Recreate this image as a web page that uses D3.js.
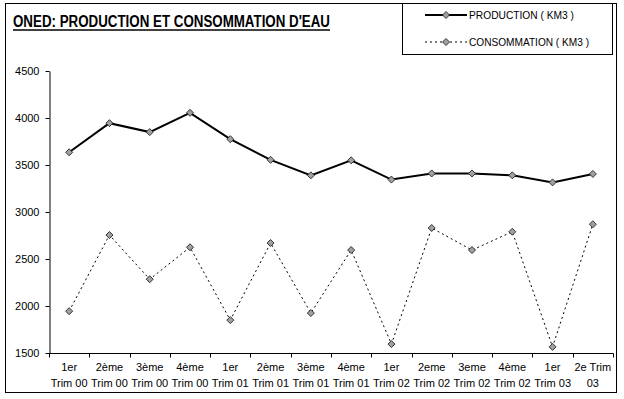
<!DOCTYPE html>
<html lang="fr">
<head>
	<meta charset="utf-8">
	<title>ONED production et consommation</title>
	<style>
		body { margin: 0; background: #fff; }
		text { font-family: Arial, "Liberation Sans", sans-serif; }
	</style>
</head>
<body>
	<script src="https://cdn.jsdelivr.net/npm/d3@7"></script>
	<script>
		// categories (two lines per label)
		const categories = [
			["1er", "Trim 00"], ["2ème", "Trim 00"], ["3ème", "Trim 00"], ["4ème", "Trim 00"],
			["1er", "Trim 01"], ["2ème", "Trim 01"], ["3ème", "Trim 01"], ["4ème", "Trim 01"],
			["1er", "Trim 02"], ["2eme", "Trim 02"], ["3eme", "Trim 02"], ["4ème", "Trim 02"],
			["1er", "Trim 03"], ["2e Trim", "03"]
		];
		const production = [3635, 3945, 3850, 4055, 3775, 3555, 3390, 3550, 3345, 3410, 3410, 3390, 3315, 3405];
		const consommation = [1945, 2755, 2285, 2625, 1850, 2670, 1925, 2595, 1595, 2830, 2595, 2790, 1565, 2870];
		const yTicks = [1500, 2000, 2500, 3000, 3500, 4000, 4500];

		const W = 624, H = 399;
		const svg = d3.select(document.body)
			.append("svg")
			.attr("width", W)
			.attr("height", H);

		// outer frame
		svg.append("rect")
			.attr("x", 5.5).attr("y", 3.5)
			.attr("width", 611).attr("height", 389)
			.attr("fill", "none").attr("stroke", "#000");

		const keys = categories.map((c, i) => i);
		const x = d3.scaleBand().domain(keys).range([49, 613]).padding(0);
		const y = d3.scaleLinear().domain([1500, 4500]).range([353, 71]);
		const cx = (i) => x(i) + x.bandwidth() / 2;

		// y axis
		const yAxis = svg.append("g")
			.attr("transform", "translate(49.5,0)")
			.call(d3.axisLeft(y).tickValues(yTicks).tickFormat(d3.format("d"))
				.tickSize(4).tickPadding(6).tickSizeOuter(0));
		yAxis.selectAll("text").attr("font-size", 11).attr("fill", "#000").attr("font-family", "Arial, 'Liberation Sans', sans-serif");
		yAxis.select(".domain").attr("stroke", "#000");

		// x axis: baseline, boundary ticks, two-line labels
		const gx = svg.append("g").attr("transform", "translate(0,353.5)");
		gx.append("line")
			.attr("x1", 49).attr("x2", 613.5)
			.attr("stroke", "#000");
		gx.selectAll("line.tick")
			.data(d3.range(categories.length + 1))
			.join("line")
			.attr("class", "tick")
			.attr("x1", (i) => Math.round(49 + i * x.bandwidth()) + 0.5)
			.attr("x2", (i) => Math.round(49 + i * x.bandwidth()) + 0.5)
			.attr("y1", 0).attr("y2", 4)
			.attr("stroke", "#000");
		const lbl = gx.selectAll("text")
			.data(categories)
			.join("text")
			.attr("text-anchor", "middle")
			.attr("font-size", 11)
			.attr("fill", "#000");
		lbl.selectAll("tspan")
			.data((d, i) => d.map((s) => ({ s, i })))
			.join("tspan")
			.attr("x", (d) => cx(d.i))
			.attr("y", (d, j) => 17 + j * 16)
			.text((d) => d.s);

		// series
		const line = d3.line().x((d, i) => cx(i)).y((d) => y(d));

		svg.append("path")
			.datum(consommation)
			.attr("d", line)
			.attr("fill", "none")
			.attr("stroke", "#000")
			.attr("stroke-width", 1)
			.attr("stroke-dasharray", "2,3");

		svg.append("path")
			.datum(production)
			.attr("d", line)
			.attr("fill", "none")
			.attr("stroke", "#000")
			.attr("stroke-width", 2);

		const diamond = (g, px, py) => g.append("path")
			.attr("d", `M${px},${py - 3.5}L${px + 3.5},${py}L${px},${py + 3.5}L${px - 3.5},${py}Z`)
			.attr("fill", "#a0a0a0")
			.attr("stroke", "#222")
			.attr("stroke-width", 0.9);

		const gm = svg.append("g");
		[production, consommation].forEach((serie) => {
			serie.forEach((v, i) => diamond(gm, cx(i), y(v)));
		});

		// title
		svg.append("text")
			.attr("x", 13).attr("y", 27)
			.attr("font-size", 16)
			.attr("font-weight", "bold")
			.attr("textLength", 317)
			.attr("lengthAdjust", "spacingAndGlyphs")
			.attr("fill", "#000")
			.text("ONED: PRODUCTION ET CONSOMMATION D'EAU");
		svg.append("line")
			.attr("x1", 13).attr("x2", 330)
			.attr("y1", 30).attr("y2", 30)
			.attr("stroke", "#000").attr("stroke-width", 1.5);

		// legend
		const lg = svg.append("g");
		lg.append("rect")
			.attr("x", 402.5).attr("y", 3.5)
			.attr("width", 210).attr("height", 51)
			.attr("fill", "#fff").attr("stroke", "#000");
		const legendItems = [
			{ name: "PRODUCTION ( KM3 )", w: 2, dash: null, ly: 15, tl: 105 },
			{ name: "CONSOMMATION ( KM3 )", w: 1, dash: "2,3", ly: 42, tl: 120 }
		];
		legendItems.forEach((it) => {
			lg.append("line")
				.attr("x1", 425).attr("x2", 467)
				.attr("y1", it.ly).attr("y2", it.ly)
				.attr("stroke", "#000")
				.attr("stroke-width", it.w)
				.attr("stroke-dasharray", it.dash);
			diamond(lg, 446, it.ly);
			lg.append("text")
				.attr("x", 469).attr("y", it.ly + 4)
				.attr("font-size", 11)
				.attr("textLength", it.tl)
				.attr("lengthAdjust", "spacingAndGlyphs")
				.attr("fill", "#000")
				.text(it.name);
		});
	</script>
</body>
</html>
